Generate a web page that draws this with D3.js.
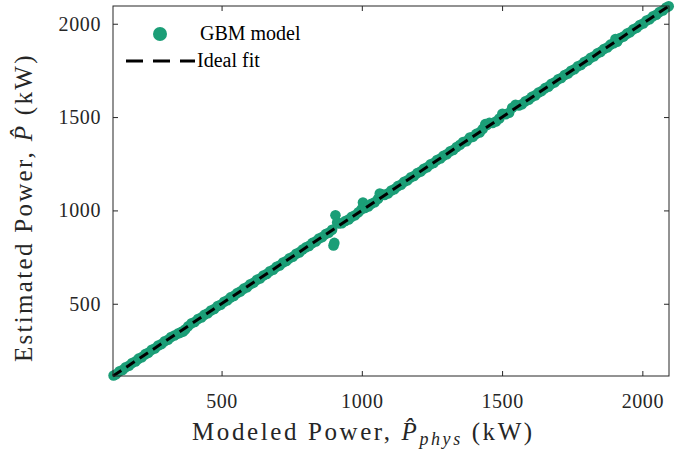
<!DOCTYPE html>
<html>
<head>
<meta charset="utf-8">
<script src="https://cdn.jsdelivr.net/npm/d3@7"></script>
<style>
  body { margin: 0; background: #fff; }
  svg text { font-family: "Liberation Serif", "Times New Roman", "DejaVu Serif", serif; }
</style>
</head>
<body>
<div id="graph"></div>
<script>
// modeled (physics) power vs. GBM estimated power, kW
var modeled = [115, 124, 136, 147, 158, 170, 181, 193, 204, 216, 228, 239, 251, 262, 274, 286, 297, 309, 320, 332,
  344, 352, 358, 363, 370, 381, 393, 404, 416, 428, 439, 451, 462, 474, 486, 497, 509, 521, 532, 544,
  556, 567, 579, 591, 602, 614, 626, 637, 649, 661, 672, 684, 696, 707, 719, 731, 742, 754, 766, 777,
  789, 801, 812, 824, 836, 847, 859, 871, 882, 894, 899, 902, 906, 912, 918, 929, 941, 953, 964, 976,
  988, 999, 1004, 1011, 1023, 1034, 1046, 1058, 1064, 1070, 1081, 1093, 1105, 1116, 1128, 1140, 1151, 1163, 1175, 1186,
  1198, 1210, 1221, 1233, 1245, 1256, 1268, 1280, 1291, 1303, 1315, 1326, 1338, 1350, 1361, 1373, 1385, 1396, 1408, 1420,
  1431, 1440, 1446, 1455, 1466, 1478, 1490, 1501, 1513, 1525, 1536, 1548, 1560, 1571, 1583, 1595, 1606, 1618, 1630, 1641,
  1653, 1665, 1676, 1688, 1700, 1711, 1723, 1735, 1746, 1758, 1770, 1781, 1793, 1805, 1816, 1828, 1840, 1851, 1863, 1875,
  1886, 1898, 1904, 1910, 1921, 1933, 1945, 1956, 1968, 1980, 1991, 2003, 2015, 2026, 2038, 2050, 2061, 2073, 2085, 2094];
var estimated = [116, 122, 138, 145, 160, 168, 183, 191, 206, 214, 230, 237, 253, 260, 276, 284, 299, 307, 322, 330,
  340, 344, 350, 352, 362, 379, 395, 402, 418, 426, 441, 449, 464, 472, 488, 495, 511, 519, 534, 542,
  558, 565, 581, 589, 604, 612, 628, 635, 651, 659, 674, 682, 698, 705, 721, 729, 744, 752, 768, 775,
  791, 803, 810, 826, 834, 849, 857, 873, 880, 896, 812, 826, 974, 935, 930, 931, 943, 951, 966, 974,
  990, 1006, 1042, 1013, 1021, 1036, 1044, 1062, 1090, 1086, 1083, 1091, 1107, 1114, 1130, 1138, 1153, 1161, 1177, 1184,
  1200, 1208, 1223, 1231, 1247, 1254, 1270, 1278, 1293, 1301, 1317, 1324, 1340, 1352, 1366, 1371, 1390, 1394, 1410, 1418,
  1436, 1462, 1458, 1470, 1468, 1476, 1492, 1518, 1515, 1523, 1550, 1566, 1562, 1569, 1585, 1593, 1608, 1616, 1632, 1639,
  1655, 1663, 1678, 1686, 1702, 1709, 1725, 1733, 1748, 1756, 1772, 1779, 1795, 1803, 1818, 1826, 1842, 1849, 1865, 1873,
  1888, 1896, 1918, 1904, 1923, 1931, 1947, 1954, 1970, 1978, 1993, 2001, 2017, 2024, 2040, 2048, 2063, 2071, 2087, 2094];
var tickVals = [500, 1000, 1500, 2000];
var axisDomain = [113, 2095];

var green = "#1b9e77", ink = "#262626";
var serif = "'Liberation Serif', 'Times New Roman', 'DejaVu Serif', serif";
var W = 688, H = 454;
var margin = {top: 6, right: 19, bottom: 78, left: 113},
    width = W - margin.left - margin.right,
    height = H - margin.top - margin.bottom;

var svg = d3.select("#graph").append("svg")
    .attr("width", W).attr("height", H)
    .attr("font-family", serif)
  .append("g")
    .attr("transform", "translate(" + margin.left + "," + margin.top + ")");

var x = d3.scaleLinear().domain(axisDomain).range([0, width]);
var y = d3.scaleLinear().domain(axisDomain).range([height, 0]);

// scatter
var pts = modeled.map(function(d, i) { return {m: d, e: estimated[i]}; });
svg.selectAll("circle.pt").data(pts).enter().append("circle")
    .attr("class", "pt")
    .attr("cx", function(d) { return x(d.m); })
    .attr("cy", function(d) { return y(d.e); })
    .attr("r", 5.3)
    .attr("fill", green);

// ideal fit line
svg.append("path")
    .datum(axisDomain)
    .attr("fill", "none")
    .attr("stroke", "#000")
    .attr("stroke-width", 3)
    .attr("stroke-dasharray", "10,6")
    .attr("d", d3.line().x(function(d) { return x(d); }).y(function(d) { return y(d); }));

// axes, ticks pointing in
var fmt = d3.format("d");
function styleAxis(g) {
  g.attr("font-family", serif);
  g.select(".domain").remove();
  g.selectAll(".tick line").attr("stroke", ink);
  g.selectAll(".tick text").attr("fill", ink).style("font-size", "20px")
    .style("letter-spacing", "0.6px");
}
svg.append("g").attr("transform", "translate(0," + height + ")")
    .call(d3.axisBottom(x).tickValues(tickVals).tickFormat(fmt).tickSize(-5).tickPadding(18))
    .call(styleAxis);
svg.append("g")
    .call(d3.axisLeft(y).tickValues(tickVals).tickFormat(fmt).tickSize(-5).tickPadding(12))
    .call(styleAxis);
svg.append("g")
    .call(d3.axisTop(x).tickValues(tickVals).tickSize(-5).tickFormat(""))
    .call(styleAxis);
svg.append("g").attr("transform", "translate(" + width + ",0)")
    .call(d3.axisRight(y).tickValues(tickVals).tickSize(-5).tickFormat(""))
    .call(styleAxis);

svg.append("rect")
    .attr("width", width).attr("height", height)
    .attr("fill", "none").attr("stroke", ink).attr("stroke-width", 1);

// axis titles
var xt = svg.append("text")
    .attr("x", 79).attr("y", height + 64)
    .attr("text-anchor", "start")
    .attr("fill", ink).style("font-size", "25px").style("letter-spacing", "2.6px");
xt.append("tspan").text("Modeled Power, ");
xt.append("tspan").style("font-style", "italic").text("P\u0302");
xt.append("tspan").style("font-style", "italic").style("font-size", "18px").attr("dy", 5).text("phys");
xt.append("tspan").attr("dy", -5).text(" (kW)");

var yt = svg.append("text")
    .attr("transform", "translate(-81,356) rotate(-90)")
    .attr("text-anchor", "start")
    .attr("fill", ink).style("font-size", "25px").style("letter-spacing", "2.3px");
yt.append("tspan").text("Estimated Power, ");
yt.append("tspan").style("font-style", "italic").text("P\u0302");
yt.append("tspan").text(" (kW)");

// legend
var leg = svg.append("g");
leg.append("circle").attr("cx", 47).attr("cy", 28).attr("r", 7).attr("fill", green);
leg.append("text").attr("x", 87).attr("y", 34).attr("fill", "#000")
    .style("font-size", "20px").text("GBM model");
leg.append("line").attr("x1", 13).attr("x2", 82).attr("y1", 55).attr("y2", 55)
    .attr("stroke", "#000").attr("stroke-width", 3).attr("stroke-dasharray", "17,10");
leg.append("text").attr("x", 84).attr("y", 61).attr("fill", "#000")
    .style("font-size", "20px").text("Ideal fit");
</script>
</body>
</html>
